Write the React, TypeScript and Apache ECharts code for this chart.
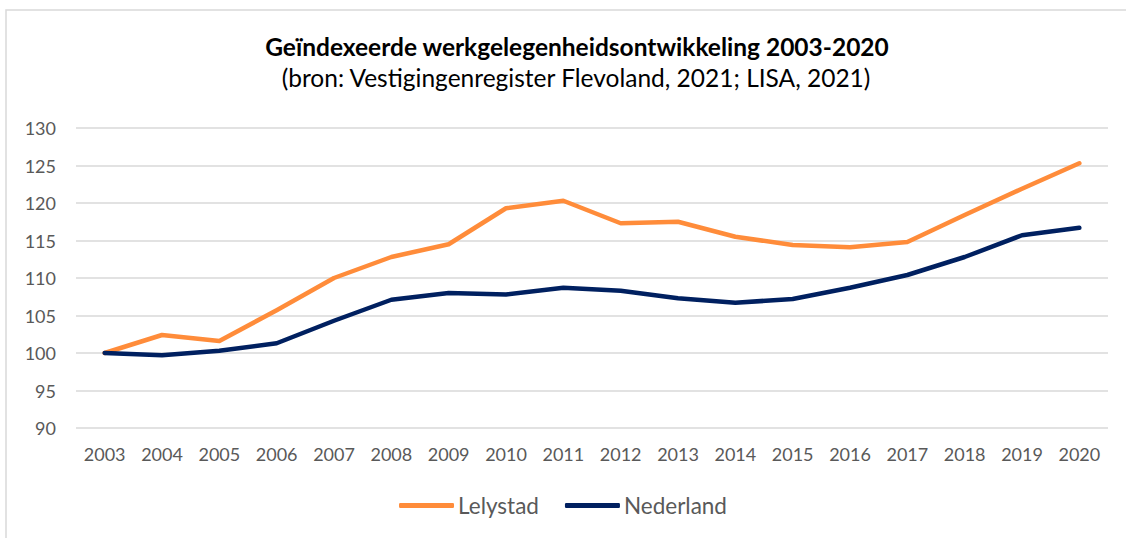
import React, { useEffect, useRef } from "react";
import * as echarts from "echarts";

const years = ["2003","2004","2005","2006","2007","2008","2009","2010","2011","2012","2013","2014","2015","2016","2017","2018","2019","2020"];
const lelystad = [100, 102.4, 101.6, 105.7, 110, 112.8, 114.5, 119.3, 120.3, 117.3, 117.5, 115.5, 114.4, 114.1, 114.8, 118.4, 121.9, 125.3];
const nederland = [100, 99.7, 100.3, 101.3, 104.3, 107.1, 108, 107.8, 108.7, 108.3, 107.3, 106.7, 107.2, 108.7, 110.4, 112.8, 115.7, 116.7];

const FONT = "Lato, 'Open Sans', sans-serif";

export default function App() {
  const ref = useRef<HTMLDivElement>(null);
  useEffect(() => {
    document.body.style.margin = "0";
    const chart = echarts.init(ref.current!, null, { renderer: "svg" });
    chart.setOption({
      animation: false,
      backgroundColor: "#ffffff",
      textStyle: { fontFamily: FONT },
      title: [
        {
          text: "Geïndexeerde werkgelegenheidsontwikkeling 2003-2020",
          left: 572,
          top: 29,
          textAlign: "center",
          textStyle: { fontFamily: FONT, fontSize: 24.5, fontWeight: "bold", color: "#000000" },
        },
        {
          text: "(bron: Vestigingenregister Flevoland, 2021; LISA, 2021)",
          left: 571,
          top: 60,
          textAlign: "center",
          textStyle: { fontFamily: FONT, fontSize: 24.5, fontWeight: "normal", color: "#000000" },
        },
      ],
      graphic: [
        {
          type: "rect",
          shape: { x: 6, y: 10, width: 1140, height: 560 },
          style: { fill: "none", stroke: "#d9d9d9", lineWidth: 1.5 },
          silent: true,
        },
      ],
      legend: {
        bottom: 16,
        left: "center",
        itemWidth: 55,
        itemHeight: 5,
        itemGap: 26,
        icon: "roundRect",
        textStyle: { fontFamily: FONT, fontSize: 22.5, color: "#595959", padding: [0, 0, 0, -1] },
        data: ["Lelystad", "Nederland"],
      },
      grid: { left: 76, right: 18, top: 128, bottom: 110 },
      xAxis: {
        type: "category",
        data: years,
        boundaryGap: true,
        axisLine: { show: false },
        axisTick: { show: false },
        axisLabel: { color: "#595959", fontSize: 18, fontFamily: FONT, margin: 17 },
      },
      yAxis: {
        type: "value",
        min: 90,
        max: 130,
        interval: 5,
        axisLine: { show: false },
        axisTick: { show: false },
        axisLabel: { color: "#595959", fontSize: 18, fontFamily: FONT, margin: 20 },
        splitLine: { lineStyle: { color: "#d9d9d9", width: 1.5 } },
      },
      series: [
        {
          name: "Lelystad",
          type: "line",
          data: lelystad,
          symbol: "none",
          color: "#FF8C3A",
          lineStyle: { width: 4.5, color: "#FF8C3A", cap: "round", join: "round" },
        },
        {
          name: "Nederland",
          type: "line",
          data: nederland,
          symbol: "none",
          color: "#002060",
          lineStyle: { width: 4.5, color: "#002060", cap: "round", join: "round" },
        },
      ],
    });
    return () => chart.dispose();
  }, []);
  return <div ref={ref} style={{ width: 1126, height: 538 }} />;
}
